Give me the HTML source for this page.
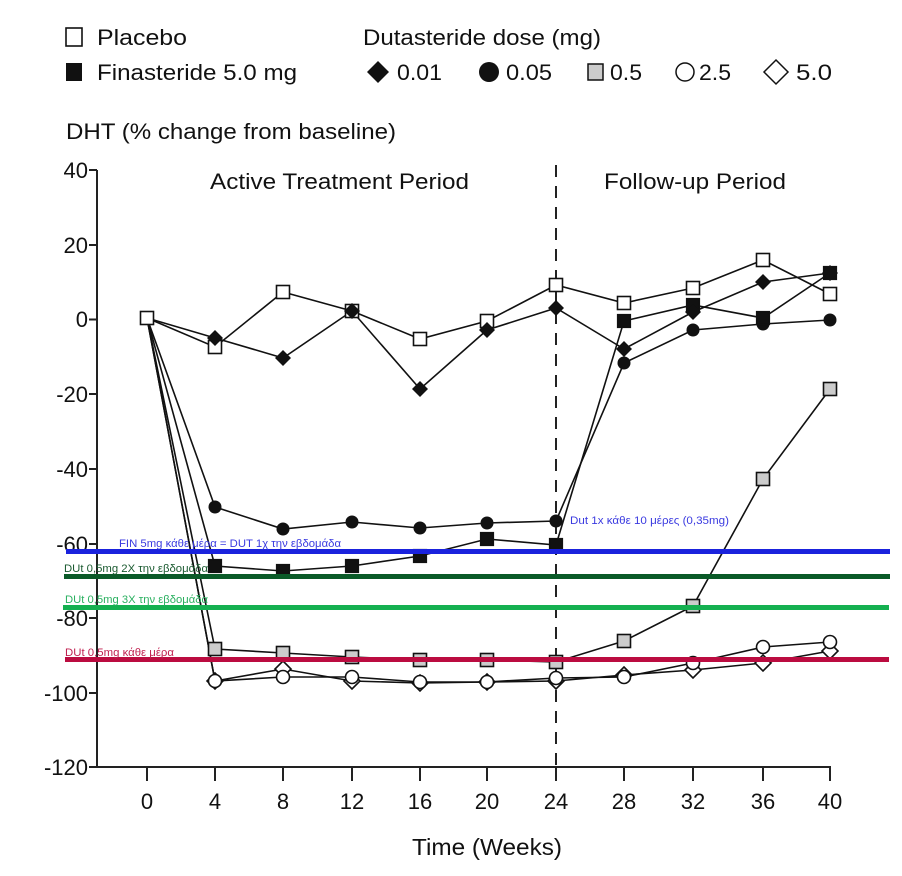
<!DOCTYPE html>
<html><head><meta charset="utf-8"><style>
html,body{margin:0;padding:0;background:#fff}
svg{display:block}
text{font-family:"Liberation Sans",Arial,sans-serif;fill:#111}
</style></head><body>
<svg width="902" height="876" viewBox="0 0 902 876" xmlns="http://www.w3.org/2000/svg">
<defs>
<rect id="os" x="-6.5" y="-6.5" width="13" height="13" fill="#fff" stroke="#111" stroke-width="1.6"/>
<rect id="fs" x="-6.5" y="-6.5" width="13" height="13" fill="#111" stroke="#111" stroke-width="1.2"/>
<rect id="gs" x="-6.5" y="-6.5" width="13" height="13" fill="#ccc" stroke="#111" stroke-width="1.6"/>
<circle id="fc" r="6.5" fill="#111"/>
<circle id="oc" r="6.5" fill="#fff" stroke="#111" stroke-width="1.6"/>
<path id="fd" d="M0,-8 L8,0 L0,8 L-8,0Z" fill="#111"/>
<path id="od" d="M0,-8 L8,0 L0,8 L-8,0Z" fill="#fff" stroke="#111" stroke-width="1.6"/>
</defs>

<g font-size="22">
<rect x="66" y="28" width="16" height="18" fill="#fff" stroke="#111" stroke-width="1.6"/>
<text x="97" y="45" textLength="90" lengthAdjust="spacingAndGlyphs">Placebo</text>
<rect x="66" y="63" width="16" height="18" fill="#111"/>
<text x="97" y="80" textLength="200" lengthAdjust="spacingAndGlyphs">Finasteride 5.0 mg</text>
<text x="363" y="45" textLength="238" lengthAdjust="spacingAndGlyphs">Dutasteride dose (mg)</text>
<path d="M378,61 L389,72 L378,83 L367,72Z" fill="#111"/>
<text x="397" y="80" textLength="45" lengthAdjust="spacingAndGlyphs">0.01</text>
<circle cx="489" cy="72" r="10" fill="#111"/>
<text x="506" y="80" textLength="46" lengthAdjust="spacingAndGlyphs">0.05</text>
<rect x="588" y="64" width="15" height="16" fill="#ccc" stroke="#111" stroke-width="1.5"/>
<text x="610" y="80" textLength="32" lengthAdjust="spacingAndGlyphs">0.5</text>
<circle cx="685" cy="72" r="9" fill="#fff" stroke="#111" stroke-width="1.5"/>
<text x="699" y="80" textLength="32" lengthAdjust="spacingAndGlyphs">2.5</text>
<path d="M776,60 L788,72 L776,84 L764,72Z" fill="#fff" stroke="#111" stroke-width="1.5"/>
<text x="796" y="80" textLength="36" lengthAdjust="spacingAndGlyphs">5.0</text>
<text x="66" y="139" textLength="330" lengthAdjust="spacingAndGlyphs">DHT (% change from baseline)</text>
</g>

<g stroke="#222" stroke-width="2" fill="none">
<path d="M97,170 V767 H831"/>
<path d="M89,170H97 M89,245H97 M89,319.5H97 M89,394H97 M89,469H97 M89,544H97 M89,618H97 M89,693H97 M89,767H97"/>
<path d="M147,767V781 M215,767V781 M283,767V781 M352,767V781 M420,767V781 M487,767V781 M556,767V781 M624,767V781 M693,767V781 M763,767V781 M830,767V781"/>
</g>
<g font-size="22" text-anchor="end">
<text x="88" y="178">40</text><text x="88" y="253">20</text><text x="88" y="327">0</text>
<text x="88" y="402">-20</text><text x="88" y="477">-40</text><text x="88" y="552">-60</text>
<text x="88" y="626">-80</text><text x="88" y="701">-100</text><text x="88" y="775">-120</text>
</g>
<g font-size="22" text-anchor="middle">
<text x="147" y="809">0</text><text x="215" y="809">4</text><text x="283" y="809">8</text>
<text x="352" y="809">12</text><text x="420" y="809">16</text><text x="487" y="809">20</text>
<text x="556" y="809">24</text><text x="624" y="809">28</text><text x="693" y="809">32</text>
<text x="763" y="809">36</text><text x="830" y="809">40</text>
</g>
<text x="412" y="855" font-size="23" textLength="150" lengthAdjust="spacingAndGlyphs">Time (Weeks)</text>
<text x="210" y="189" font-size="22" textLength="259" lengthAdjust="spacingAndGlyphs">Active Treatment Period</text>
<text x="604" y="189" font-size="22" textLength="182" lengthAdjust="spacingAndGlyphs">Follow-up Period</text>
<path d="M556,165V767" stroke="#222" stroke-width="2" stroke-dasharray="12,9"/>

<g fill="none" stroke="#111" stroke-width="1.6">
<polyline points="147,318 215,347 283,292 352,311 420,339 487,321 556,285 624,303 693,288 763,260 830,294"/>
<polyline points="147,318 215,566 283,571 352,566 420,556 487,539 556,545 624,321 693,305 763,318 830,273"/>
<polyline points="147,318 215,338 283,358 352,311 420,389 487,330 556,308 624,349 693,312 763,282 830,273"/>
<polyline points="147,318 215,507 283,529 352,522 420,528 487,523 556,521 624,363 693,330 763,324 830,320"/>
<polyline points="147,318 215,649 283,653 352,657 420,660 487,660 556,662 624,641 693,606 763,479 830,389"/>
<polyline points="147,318 215,681 283,677 352,677 420,682 487,682 556,678 624,677 693,663 763,647 830,642"/>
<polyline points="147,318 215,681 283,669 352,681 420,683 487,682 556,681 624,675 693,670 763,663 830,651"/>
</g>
<g>
<use href="#od" x="215" y="681"/><use href="#od" x="283" y="669"/><use href="#od" x="352" y="681"/><use href="#od" x="420" y="683"/><use href="#od" x="487" y="682"/><use href="#od" x="556" y="681"/><use href="#od" x="624" y="675"/><use href="#od" x="693" y="670"/><use href="#od" x="763" y="663"/><use href="#od" x="830" y="651"/>
<use href="#oc" x="215" y="681"/><use href="#oc" x="283" y="677"/><use href="#oc" x="352" y="677"/><use href="#oc" x="420" y="682"/><use href="#oc" x="487" y="682"/><use href="#oc" x="556" y="678"/><use href="#oc" x="624" y="677"/><use href="#oc" x="693" y="663"/><use href="#oc" x="763" y="647"/><use href="#oc" x="830" y="642"/>
<use href="#gs" x="215" y="649"/><use href="#gs" x="283" y="653"/><use href="#gs" x="352" y="657"/><use href="#gs" x="420" y="660"/><use href="#gs" x="487" y="660"/><use href="#gs" x="556" y="662"/><use href="#gs" x="624" y="641"/><use href="#gs" x="693" y="606"/><use href="#gs" x="763" y="479"/><use href="#gs" x="830" y="389"/>
<use href="#fc" x="215" y="507"/><use href="#fc" x="283" y="529"/><use href="#fc" x="352" y="522"/><use href="#fc" x="420" y="528"/><use href="#fc" x="487" y="523"/><use href="#fc" x="556" y="521"/><use href="#fc" x="624" y="363"/><use href="#fc" x="693" y="330"/><use href="#fc" x="763" y="324"/><use href="#fc" x="830" y="320"/>
<use href="#fs" x="215" y="566"/><use href="#fs" x="283" y="571"/><use href="#fs" x="352" y="566"/><use href="#fs" x="420" y="556"/><use href="#fs" x="487" y="539"/><use href="#fs" x="556" y="545"/><use href="#fs" x="624" y="321"/><use href="#fs" x="693" y="305"/><use href="#fs" x="763" y="318"/><use href="#fs" x="830" y="273"/>
<use href="#os" x="147" y="318"/><use href="#os" x="215" y="347"/><use href="#os" x="283" y="292"/><use href="#os" x="352" y="311"/><use href="#os" x="420" y="339"/><use href="#os" x="487" y="321"/><use href="#os" x="556" y="285"/><use href="#os" x="624" y="303"/><use href="#os" x="693" y="288"/><use href="#os" x="763" y="260"/><use href="#os" x="830" y="294"/>
<use href="#fd" x="215" y="338"/><use href="#fd" x="283" y="358"/><use href="#fd" x="352" y="311"/><use href="#fd" x="420" y="389"/><use href="#fd" x="487" y="330"/><use href="#fd" x="556" y="308"/><use href="#fd" x="624" y="349"/><use href="#fd" x="693" y="312"/><use href="#fd" x="763" y="282"/><use href="#fd" x="830" y="273"/>
</g>

<rect x="66" y="549" width="824" height="5" fill="#1a22dd"/>
<rect x="64" y="574" width="826" height="5" fill="#0a5a28"/>
<rect x="63" y="605" width="826" height="5" fill="#14b050"/>
<rect x="65" y="657" width="824" height="5" fill="#bb0c40"/>
<g font-size="11">
<text x="119" y="547" style="fill:#3a3ae0" textLength="222" lengthAdjust="spacingAndGlyphs">FIN 5mg κάθε μέρα = DUT 1χ την εβδομάδα</text>
<text x="64" y="572" style="fill:#1a5a30" textLength="144" lengthAdjust="spacingAndGlyphs">DUt 0,5mg 2X την εβδομάδα</text>
<text x="65" y="603" style="fill:#2ab060" textLength="143" lengthAdjust="spacingAndGlyphs">DUt 0,5mg 3X την εβδομάδα</text>
<text x="65" y="656" style="fill:#c02050" textLength="109" lengthAdjust="spacingAndGlyphs">DUt 0,5mg κάθε μέρα</text>
<text x="570" y="524" style="fill:#3a3ae0" textLength="159" lengthAdjust="spacingAndGlyphs">Dut 1x κάθε 10 μέρες (0,35mg)</text>
</g>
</svg>
</body></html>
